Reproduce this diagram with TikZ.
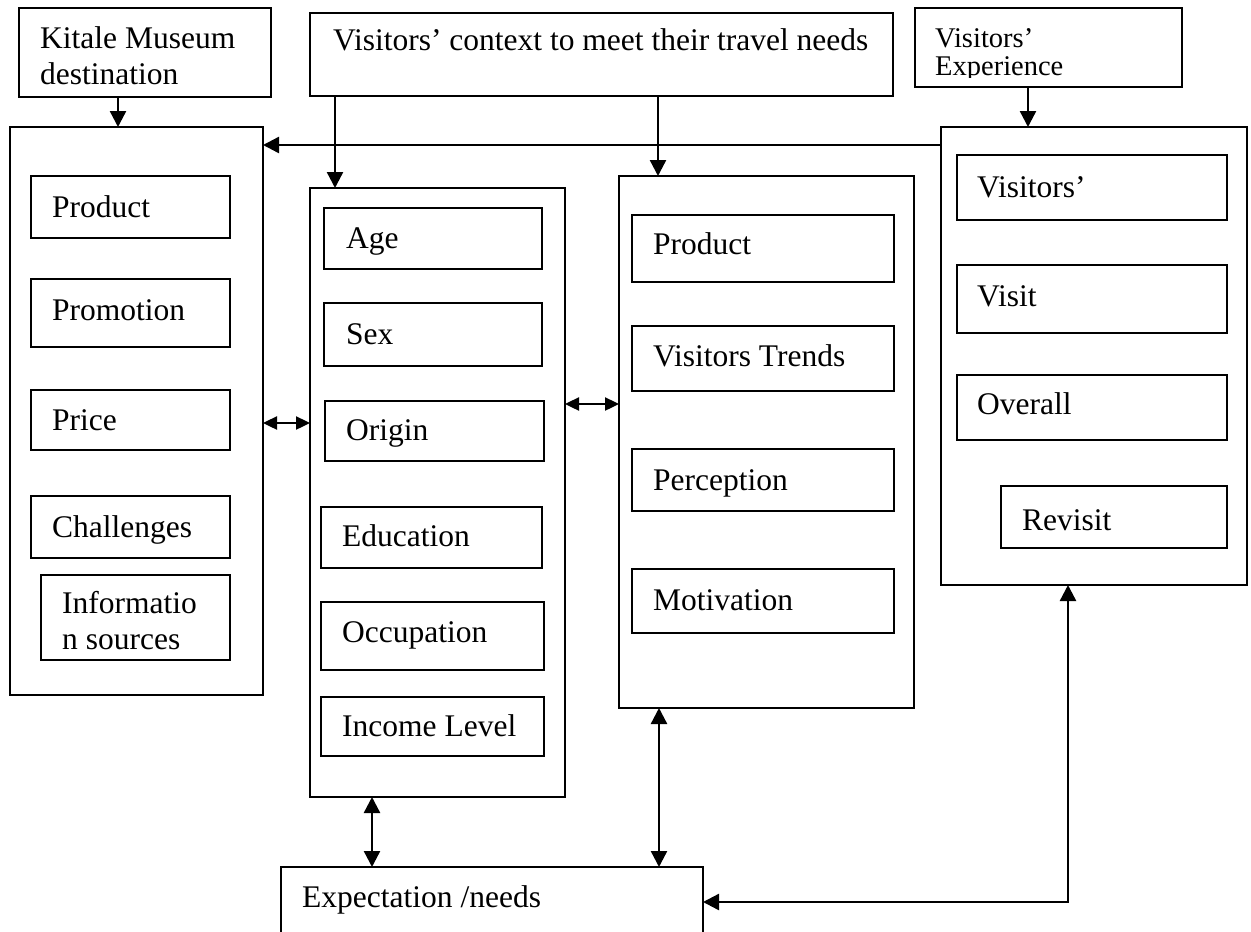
\documentclass[tikz,border=0pt]{standalone}
\usepackage{fontspec}
\setmainfont{Liberation Serif}
\usetikzlibrary{arrows.meta}
\tikzset{
  box/.style={draw, line width=1.6pt, inner sep=0pt, outer sep=0pt},
  txt/.style={anchor=base west, inner sep=0pt, font=\fontsize{31.5}{36}\selectfont},
  arr/.style={line width=2.4pt, -{Triangle[length=16pt,width=16pt]}},
  darr/.style={line width=2.4pt, {Triangle[length=16pt,width=16pt]}-{Triangle[length=16pt,width=16pt]}},
  sdarr/.style={line width=2.4pt, {Triangle[length=14pt,width=13pt]}-{Triangle[length=14pt,width=13pt]}},
}
\newcommand{\mkbox}[5]{\node[box, minimum width={#4-#2}, minimum height={#5-#3}] (#1) at ({(#2+#4)/2},{(#3+#5)/2}) {};}
\begin{document}
\begin{tikzpicture}[x=1pt,y=-1pt]
\useasboundingbox (0,0) rectangle (1251,932);
\clip (0,0) rectangle (1251,932);
% top boxes
\mkbox{kit}{19}{8}{271}{97}
\node[txt, align=left, anchor=north west] (kitT) at (40,26) {Kitale Museum\\destination};
\mkbox{ctx}{310}{13}{893}{96}
\node[txt] (ctxT) at (333,50) {Visitors’ context to meet their travel needs};
\mkbox{exp}{915}{8}{1182}{87}
\begin{scope}
\clip (916,9) rectangle (1181,77);
\node[anchor=north west, align=left, inner sep=0pt, font=\fontsize{28.5}{28}\selectfont] (expT) at (935,28) {Visitors’\\Experience};
\end{scope}
% outer columns
\mkbox{L}{10}{127}{263}{695}
\mkbox{M}{310}{188}{565}{797}
\mkbox{RM}{619}{176}{914}{708}
\mkbox{R}{941}{127}{1247}{585}
\mkbox{E}{281}{867}{703}{960}
\node[txt] (Et) at (302,907) {Expectation /needs};
% left column
\mkbox{l1}{31}{176}{230}{238} \node[txt] at (52,217) {Product};
\mkbox{l2}{31}{279}{230}{347} \node[txt] at (52,320) {Promotion};
\mkbox{l3}{31}{390}{230}{450} \node[txt] at (52,430) {Price};
\mkbox{l4}{31}{496}{230}{558} \node[txt] at (52,537) {Challenges};
\mkbox{l5}{41}{575}{230}{660} \node[txt, align=left, anchor=north west] at (62,591) {Informatio\\n sources};
% middle column
\mkbox{m1}{324}{208}{542}{269} \node[txt] at (346,248) {Age};
\mkbox{m2}{324}{303}{542}{366} \node[txt] at (346,344) {Sex};
\mkbox{m3}{325}{401}{544}{461} \node[txt] at (346,440) {Origin};
\mkbox{m4}{321}{507}{542}{568} \node[txt] at (342,546) {Education};
\mkbox{m5}{321}{602}{544}{670} \node[txt] at (342,642) {Occupation};
\mkbox{m6}{321}{697}{544}{756} \node[txt] at (342,736) {Income Level};
% right-middle column
\mkbox{r1}{632}{215}{894}{282} \node[txt] at (653,254) {Product};
\mkbox{r2}{632}{326}{894}{391} \node[txt] at (653,366) {Visitors Trends};
\mkbox{r3}{632}{449}{894}{511} \node[txt] at (653,490) {Perception};
\mkbox{r4}{632}{569}{894}{633} \node[txt] at (653,610) {Motivation};
% right column
\mkbox{s1}{957}{155}{1227}{220} \node[txt] at (977,197) {Visitors’};
\mkbox{s2}{957}{265}{1227}{333} \node[txt] at (977,306) {Visit};
\mkbox{s3}{957}{375}{1227}{440} \node[txt] at (977,414) {Overall};
\mkbox{s4}{1001}{486}{1227}{548} \node[txt] at (1022,530) {Revisit};
% connectors
\draw[arr] ([xshift=99pt]kit.south west) -- ([xshift=108pt]L.north west);
\draw[arr] ([xshift=25pt]ctx.south west) -- ([xshift=25pt]M.north west);
\draw[arr] ([xshift=348pt]ctx.south west) -- ([xshift=39pt]RM.north west);
\draw[arr] ([xshift=113pt]exp.south west) -- ([xshift=87pt]R.north west);
\draw[arr] ([yshift=-18pt]R.north west) -- ([yshift=-18pt]L.north east);
\draw[sdarr] ([yshift=-296pt]L.north east) -- ([yshift=-235pt]M.north west);
\draw[sdarr] ([yshift=-216pt]M.north east) -- ([yshift=-228pt]RM.north west);
\draw[darr] ([xshift=62pt]M.south west) -- ([xshift=91pt]E.north west);
\draw[darr] ([xshift=40pt]RM.south west) -- ([xshift=378pt]E.north west);
\draw[darr] ([yshift=-35pt]E.north east) -| ([xshift=127pt]R.south west);
\end{tikzpicture}
\end{document}
